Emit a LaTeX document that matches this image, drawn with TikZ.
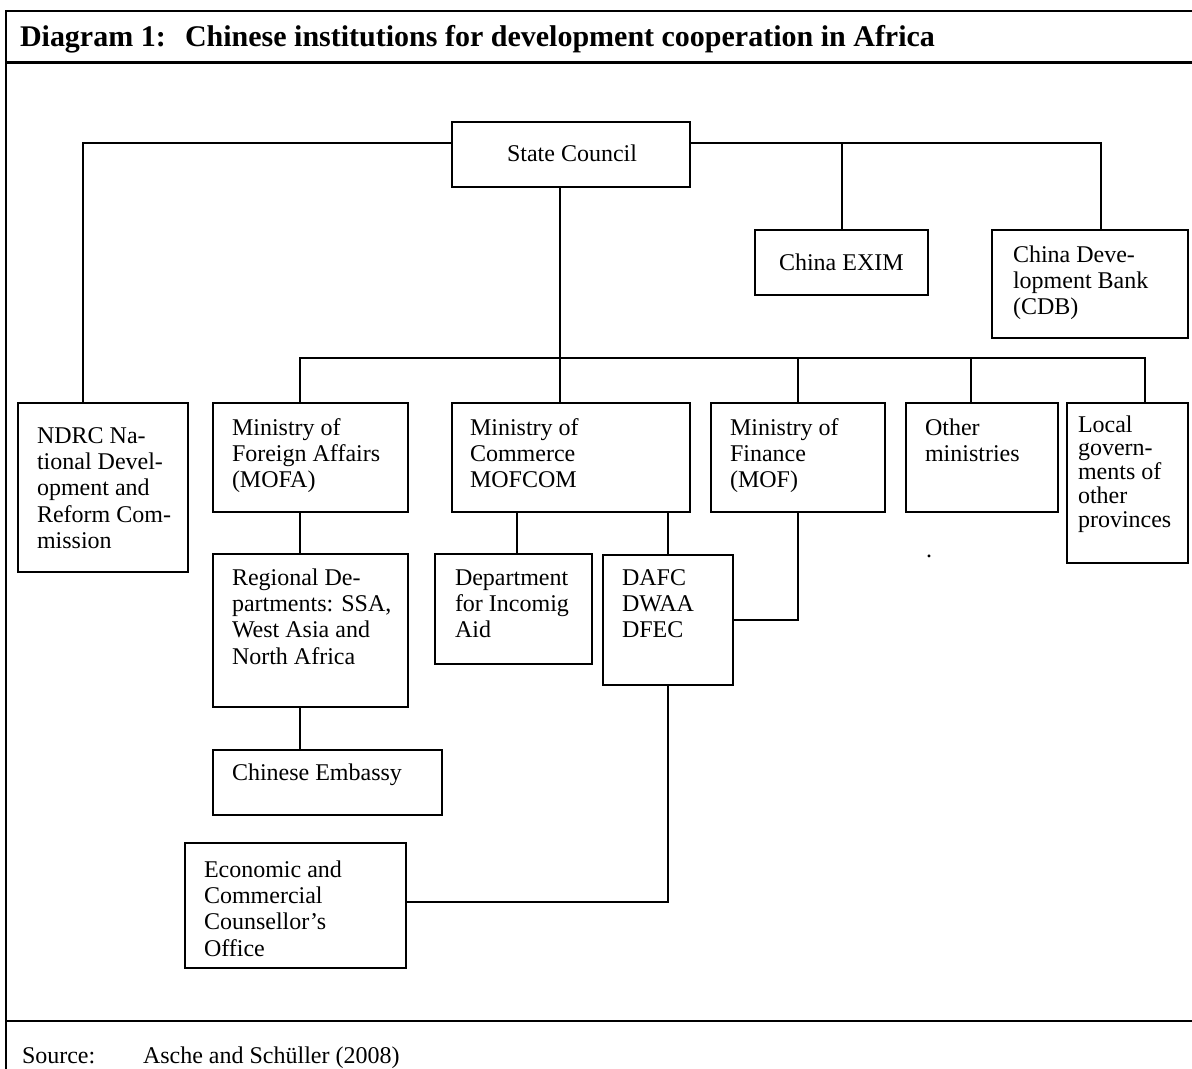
\documentclass[tikz,border=0pt]{standalone}
\usepackage{fontspec}
\setmainfont{Liberation Serif}
\newcommand{\bodyfont}{\fontsize{18pt}{19.8pt}\selectfont}
\newcommand{\tightfont}{\fontsize{18pt}{17.8pt}\selectfont}
\newcommand{\ml}[1]{\begin{tabular}[t]{@{}l@{}}#1\end{tabular}}
\newcommand{\mybox}[5]{\node[box, anchor=north west, minimum width={(#4-#2)*0.75pt}, minimum height={(#5-#3)*0.75pt}] (#1) at (#2,#3) {};}
\tikzset{
  box/.style={draw, line width=1.4pt, inner sep=0pt, outer sep=0pt, rectangle},
  txt/.style={anchor=base west, inner sep=0pt, outer sep=0pt, font=\bodyfont},
  ttl/.style={anchor=base west, inner sep=0pt, outer sep=0pt, font=\fontsize{22.5pt}{27pt}\selectfont\bfseries},
  conn/.style={line width=1.3pt},
  frame/.style={line width=1.9pt}
}
\begin{document}
\begin{tikzpicture}[x=0.75pt, y=-0.75pt]
\useasboundingbox (0,0) rectangle (1192,1068);
% frame
\coordinate (ftl) at (6,11);
\coordinate (ftr) at (1194,11);
\coordinate (fml) at (6,62.5);
\coordinate (fmr) at (1194,62.5);
\coordinate (fbl) at (6,1021);
\coordinate (fbr) at (1194,1021);
\coordinate (fend) at (6,1070);
\draw[frame] (ftr) -- (ftl) -- (fend);
\draw[frame] (fml) -- (fmr);
\draw[frame] (fbl) -- (fbr);
\node[ttl] (t1) at (20,46) {Diagram 1:};
\node[ttl] (t2) at (185,46) {Chinese institutions for development cooperation in Africa};
\node[txt] (s1) at (22,1063) {Source:};
\node[txt] (s2) at (143,1063) {Asche and Schüller (2008)};
% boxes
\mybox{sc}{452}{122}{690}{187}
\mybox{exim}{755}{230}{928}{295}
\mybox{cdb}{992}{230}{1188}{338}
\mybox{ndrc}{18}{403}{188}{572}
\mybox{mofa}{213}{403}{408}{512}
\mybox{mofcom}{452}{403}{690}{512}
\mybox{mof}{711}{403}{885}{512}
\mybox{other}{906}{403}{1058}{512}
\mybox{local}{1067}{403}{1188}{563}
\mybox{reg}{213}{554}{408}{707}
\mybox{dept}{435}{554}{592}{664}
\mybox{dafc}{603}{555}{733}{685}
\mybox{emb}{213}{750}{442}{815}
\mybox{ecco}{185}{843}{406}{968}
% texts
\node[txt] (sc-t) at (507,161) {State Council};
\node[txt] (exim-t) at (779,270) {China EXIM};
\node[txt] (cdb-t) at (1013,262) {\ml{China Deve-\\lopment Bank\\(CDB)}};
\node[txt] (ndrc-t) at (37,443) {\ml{NDRC Na-\\tional Devel-\\opment and\\Reform Com-\\mission}};
\node[txt] (mofa-t) at (232,435) {\ml{Ministry of\\Foreign Affairs\\(MOFA)}};
\node[txt] (mofcom-t) at (470,435) {\ml{Ministry of\\Commerce\\MOFCOM}};
\node[txt] (mof-t) at (730,435) {\ml{Ministry of\\Finance\\(MOF)}};
\node[txt] (other-t) at (925,435) {\ml{Other\\ministries}};
\node[txt, font=\tightfont] (local-t) at (1078,432) {\ml{Local\\govern-\\ments of\\other\\provinces}};
\node[txt] (reg-t) at (232,585) {\ml{Regional De-\\partments: SSA,\\West Asia and\\North Africa}};
\node[txt] (dept-t) at (455,585) {\ml{Department\\for Incomig\\Aid}};
\node[txt] (dafc-t) at (622,585) {\ml{DAFC\\DWAA\\DFEC}};
\node[txt] (emb-t) at (232,780) {Chinese Embassy};
\node[txt] (ecco-t) at (204,877) {\ml{Economic and\\Commercial\\Counsellor’s\\Office}};
\node[txt] (dot) at (926,557) {.};
% connectors
\coordinate (bus) at (1145,358);
\draw[conn] (sc.west |- 0,143) -| (83,0 |- ndrc.north);
\draw[conn] (sc.east |- 0,143) -| (1101,0 |- cdb.north);
\draw[conn] (842,143) -- (842,0 |- exim.north);
\draw[conn] (560,0 |- sc.south) -- (560,358);
\draw[conn] (300,0 |- mofa.north) |- (bus) -- (1145,0 |- local.north);
\draw[conn] (560,358) -- (560,0 |- mofcom.north);
\draw[conn] (798,358) -- (798,0 |- mof.north);
\draw[conn] (971,358) -- (971,0 |- other.north);
\draw[conn] (300,0 |- mofa.south) -- (300,0 |- reg.north);
\draw[conn] (300,0 |- reg.south) -- (300,0 |- emb.north);
\draw[conn] (517,0 |- mofcom.south) -- (517,0 |- dept.north);
\draw[conn] (668,0 |- mofcom.south) -- (668,0 |- dafc.north);
\draw[conn] (798,0 |- mof.south) |- (dafc.east |- 0,620);
\draw[conn] (668,0 |- dafc.south) |- (ecco.east |- 0,902);
\end{tikzpicture}
\end{document}
